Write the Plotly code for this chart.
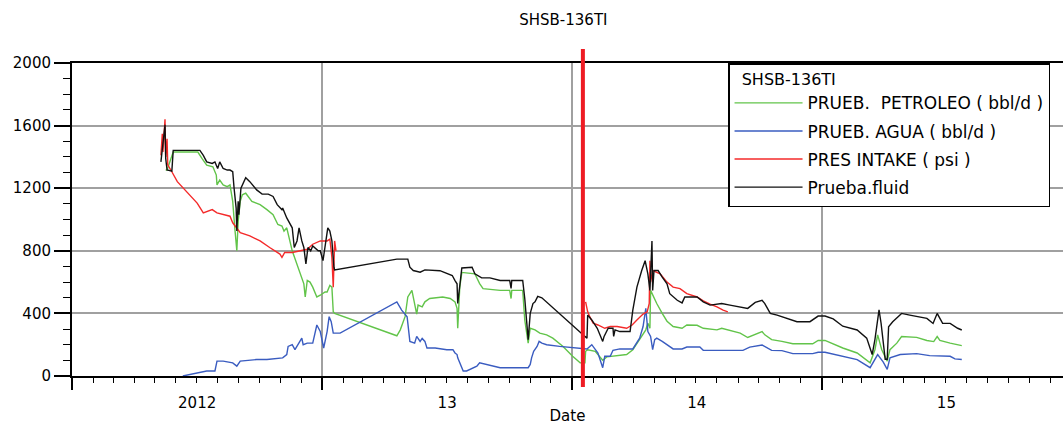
import plotly.graph_objects as go

# ---------------- data ----------------
fluid_dates = ["2012-05-10","2012-05-13","2012-05-16","2012-05-17","2012-05-19","2012-05-26","2012-05-28","2012-05-31",
"2012-07-06","2012-07-11","2012-07-16","2012-07-24","2012-07-28","2012-08-01","2012-08-04","2012-08-09","2012-08-15",
"2012-08-19","2012-08-23","2012-08-25","2012-08-28","2012-08-29","2012-08-31","2012-09-01","2012-09-04","2012-09-11",
"2012-09-17","2012-09-27","2012-10-05","2012-10-14","2012-10-21","2012-10-27","2012-11-03","2012-11-04","2012-11-10",
"2012-11-18","2012-11-21","2012-11-25","2012-11-28","2012-12-02","2012-12-05","2012-12-08","2012-12-11","2012-12-15",
"2012-12-18","2012-12-26","2012-12-29","2013-01-02","2013-01-05","2013-01-09","2013-01-12","2013-01-15","2013-01-18",
"2013-01-19","2013-04-20","2013-05-06","2013-05-09","2013-05-14","2013-05-24","2013-05-31","2013-06-22","2013-07-10",
"2013-07-14","2013-07-17","2013-07-18","2013-07-21","2013-07-24","2013-08-08","2013-08-12","2013-08-22","2013-09-03",
"2013-09-18","2013-10-02","2013-10-04","2013-10-05","2013-10-21","2013-10-24","2013-10-27","2013-10-29","2013-11-01",
"2013-11-05","2013-11-08","2013-11-12","2013-11-18","2014-01-16","2014-01-20","2014-01-23","2014-01-24","2014-01-30",
"2014-02-07","2014-02-15","2014-02-17","2014-02-23","2014-03-02","2014-03-03","2014-03-05","2014-03-12","2014-03-27",
"2014-03-31","2014-04-06","2014-04-13","2014-04-18","2014-04-22","2014-04-25","2014-04-28","2014-04-29","2014-05-01",
"2014-05-07","2014-05-13","2014-05-20","2014-05-24","2014-06-04","2014-06-11","2014-06-15","2014-07-03","2014-07-12",
"2014-07-22","2014-08-08","2014-08-20","2014-09-04","2014-09-15","2014-09-26","2014-10-06","2014-10-10","2014-10-18",
"2014-10-28","2014-11-11","2014-11-26","2014-12-15","2014-12-27","2015-01-06","2015-01-18","2015-02-01","2015-02-22",
"2015-03-08","2015-03-16","2015-03-20","2015-03-23","2015-03-26","2015-03-29","2015-04-01","2015-04-04","2015-04-07",
"2015-04-09","2015-04-15","2015-04-28","2015-05-10","2015-06-04","2015-06-13","2015-06-19","2015-06-23","2015-06-27",
"2015-07-08","2015-07-15","2015-07-19","2015-07-25"]
fluid_vals = [1368,1495,1605,1390,1316,1309,1442,1442,
1442,1410,1368,1358,1368,1326,1368,1326,1316,
1316,1305,1200,1073,926,1116,1031,1200,1267,
1242,1189,1162,1162,1147,1095,1063,1073,1010,
947,821,863,947,863,821,716,821,800,
831,800,800,737,821,947,926,863,695,
678,747,747,695,674,663,678,673,642,
610,589,463,589,690,695,653,627,627,
610,610,560,610,610,495,337,232,400,
463,474,509,500,263,253,242,389,358,
305,221,253,305,305,253,295,284,284,
421,568,674,737,653,547,863,547,674,
674,632,589,526,484,467,505,505,474,
453,463,453,442,432,470,484,463,400,
389,368,347,347,383,383,365,318,294,
242,137,233,347,423,337,210,107,107,
315,347,400,389,368,336,400,368,336,
336,315,305,294]

oil_dates = ["2012-05-17","2012-05-19","2012-05-28","2012-07-03","2012-07-09","2012-07-16","2012-07-25","2012-07-30",
"2012-07-31","2012-08-04","2012-08-09","2012-08-15","2012-08-19","2012-08-23","2012-08-26","2012-08-29","2012-08-31",
"2012-09-03","2012-09-06","2012-09-11","2012-09-20","2012-10-02","2012-10-12","2012-10-21","2012-10-28","2012-11-03",
"2012-11-06","2012-11-10","2012-11-18","2012-11-22","2012-11-26","2012-11-29","2012-12-05","2012-12-07","2012-12-10",
"2012-12-14","2012-12-18","2012-12-24","2012-12-29","2013-01-05","2013-01-08","2013-01-12","2013-01-15","2013-01-17",
"2013-01-19","2013-04-20","2013-04-25","2013-05-02","2013-05-06","2013-05-12","2013-05-16","2013-05-19","2013-05-21",
"2013-05-27","2013-05-31","2013-06-07","2013-06-26","2013-07-07","2013-07-14","2013-07-17","2013-07-18","2013-07-21",
"2013-07-24","2013-08-12","2013-08-19","2013-08-24","2013-09-18","2013-10-02","2013-10-04","2013-10-05","2013-10-21",
"2013-10-24","2013-10-29","2013-11-01","2013-11-08","2013-11-15","2013-11-25","2013-12-04","2013-12-19","2014-01-02",
"2014-01-13","2014-01-20","2014-01-21","2014-01-24","2014-02-04","2014-02-15","2014-02-21","2014-03-02","2014-03-22",
"2014-03-31","2014-04-10","2014-04-19","2014-04-22","2014-04-25","2014-04-26","2014-04-29","2014-05-05","2014-05-13",
"2014-05-20","2014-05-29","2014-06-11","2014-06-18","2014-07-03","2014-07-12","2014-08-01","2014-08-08","2014-08-20",
"2014-09-04","2014-09-15","2014-09-26","2014-10-06","2014-10-10","2014-10-20","2014-11-04","2014-11-20","2014-12-19",
"2014-12-27","2015-01-06","2015-01-18","2015-02-01","2015-02-22","2015-03-13","2015-03-20","2015-03-24","2015-03-30",
"2015-04-07","2015-04-11","2015-04-21","2015-04-28","2015-05-20","2015-06-04","2015-06-14","2015-06-19","2015-06-23",
"2015-07-08","2015-07-25"]
oil_vals = [1316,1316,1431,1431,1390,1347,1337,1284,
1221,1252,1221,1210,1221,1116,947,800,990,
1116,1158,1168,1116,1095,1063,1031,968,958,
926,947,800,748,695,653,589,505,611,
600,568,505,516,537,537,579,568,410,
400,257,295,379,505,547,463,396,453,
442,474,495,505,495,474,432,305,568,
662,653,590,558,547,547,495,547,547,
358,210,305,295,274,263,242,189,126,
84,84,158,168,158,101,122,126,137,
168,232,295,337,305,547,516,463,400,
350,316,305,326,324,305,295,305,290,
274,246,268,284,263,232,221,206,206,
227,227,205,179,147,84,168,263,168,
95,168,210,252,247,227,220,252,227,
210,194]

water_dates = ["2012-06-11","2012-06-22","2012-07-02","2012-07-16","2012-07-28","2012-07-31","2012-08-09","2012-08-23",
"2012-08-29","2012-09-03","2012-09-27","2012-10-12","2012-11-04","2012-11-10","2012-11-12","2012-11-18","2012-11-22",
"2012-11-26","2012-12-02","2012-12-04","2012-12-10","2012-12-18","2012-12-21","2012-12-24","2012-12-29","2012-12-31",
"2013-01-03","2013-01-08","2013-01-11","2013-01-14","2013-01-17","2013-01-27","2013-04-20","2013-04-27","2013-05-05",
"2013-05-09","2013-05-16","2013-05-19","2013-05-24","2013-05-27","2013-05-31","2013-06-03","2013-06-15","2013-07-02",
"2013-07-11","2013-07-14","2013-07-17","2013-07-18","2013-07-21","2013-07-26","2013-07-31","2013-08-15","2013-08-19",
"2013-09-07","2013-09-18","2013-10-29","2013-11-01","2013-11-03","2013-11-06","2013-11-11","2013-11-14","2013-11-18",
"2013-11-25","2013-12-14","2014-01-13","2014-01-23","2014-01-30","2014-02-01","2014-02-08","2014-02-15","2014-02-18",
"2014-02-26","2014-03-02","2014-03-12","2014-03-31","2014-04-10","2014-04-15","2014-04-19","2014-04-21","2014-04-22",
"2014-04-26","2014-04-29","2014-05-02","2014-05-05","2014-05-13","2014-05-20","2014-05-29","2014-06-11","2014-06-18",
"2014-07-07","2014-07-12","2014-09-08","2014-09-18","2014-10-06","2014-10-13","2014-10-20","2014-11-04","2014-11-20",
"2014-12-19","2014-12-27","2015-01-06","2015-01-18","2015-02-01","2015-02-22","2015-03-13","2015-03-24","2015-04-01",
"2015-04-07","2015-04-11","2015-04-26","2015-05-20","2015-06-08","2015-07-08","2015-07-15","2015-07-25"]
water_vals = [0,10,21,32,32,95,95,84,
63,95,105,105,116,137,189,200,168,
200,242,200,210,210,274,326,284,232,
179,284,379,347,274,274,474,421,379,
221,210,253,221,240,221,179,179,168,
168,147,137,116,84,32,32,63,84,
63,53,53,74,116,158,189,221,210,
200,189,179,173,200,189,147,53,126,
126,164,173,173,242,316,432,326,284,
253,168,232,242,221,200,173,173,185,
185,164,164,185,198,179,164,162,143,
143,152,152,140,126,105,53,137,90,
42,116,137,143,130,126,109,105]

intake_dates = ["2012-05-10","2012-05-12","2012-05-13","2012-05-16","2012-05-17","2012-05-19","2012-05-20","2012-05-23",
"2012-05-26","2012-06-03","2012-06-17","2012-07-02","2012-07-11","2012-07-16","2012-07-24","2012-07-31","2012-08-09",
"2012-08-19","2012-08-23","2012-08-29","2012-09-03","2012-09-17","2012-10-02","2012-10-16","2012-10-31","2012-11-03",
"2012-11-07","2012-11-18","2012-11-29","2012-12-10","2012-12-18","2012-12-29","2013-01-08","2013-01-12","2013-01-14",
"2013-01-15","2013-01-17","2013-01-18","2013-01-19","2013-01-21","2013-07-01","2014-01-21","2014-01-24","2014-01-27",
"2014-02-01","2014-02-08","2014-02-18","2014-02-26","2014-03-08","2014-03-22","2014-03-30","2014-04-06","2014-04-15",
"2014-04-21","2014-04-24","2014-04-25","2014-04-26","2014-04-29","2014-05-10","2014-05-20","2014-05-29","2014-06-08",
"2014-06-18","2014-07-03","2014-07-12","2014-07-22","2014-08-01","2014-08-10","2014-08-17"]
intake_vals = [1410,1547,1431,1640,1400,1516,1350,1330,
1305,1242,1179,1105,1042,1052,1063,1042,1031,
1021,979,947,916,895,863,821,779,758,
789,789,800,810,842,863,863,874,800,
758,568,700,863,800,None,474,410,379,
337,326,305,316,316,305,326,358,396,
410,463,737,600,674,653,600,568,558,
526,505,480,459,442,421,410]

marker_date = "2014-01-17"
x_range = ["2012-01-01", "2015-12-20"]
y_range = [0, 2000]

title_text = "SHSB-136TI"
legend_title = "\u00a0\u00a0SHSB-136TI"
names = ["PRUEB.\u00a0 PETROLEO ( bbl/d )", "PRUEB. AGUA ( bbl/d )", "PRES INTAKE ( psi )", "Prueba.fluid"]
colors = ["#62c44a", "#3a5cc0", "#f42a2a", "#111111"]

# ---------------- figure ----------------
fig = go.Figure()
series = [(oil_dates, oil_vals), (water_dates, water_vals), (intake_dates, intake_vals), (fluid_dates, fluid_vals)]
for i, ((d, v), n, c) in enumerate(zip(series, names, colors)):
    fig.add_trace(go.Scatter(x=d, y=v, mode="lines", name=n, legendgroup=str(i),
                             line=dict(color=c, width=1.4), connectgaps=False))

fig.add_shape(type="line", xref="x", yref="paper", x0=marker_date, x1=marker_date,
              y0=-0.035, y1=1.045, line=dict(color="#ee1c24", width=4), layer="above")

font_family = "DejaVu Sans"
fig.update_layout(
    width=1063, height=425,
    margin=dict(l=72, r=0, t=63, b=45),
    paper_bgcolor="white", plot_bgcolor="white",
    font=dict(family=font_family, size=15, color="black"),
    title=dict(text=title_text, x=0.53, xanchor="center", y=0.953, yanchor="middle",
               xref="container", yref="container", font=dict(size=15, color="black")),
    showlegend=True,
    legend=dict(x=0.662, xanchor="left", y=1, yanchor="top",
                bgcolor="white", bordercolor="black", borderwidth=1.5,
                font=dict(size=17, color="black"),
                title=dict(text=legend_title, font=dict(size=16)),
                tracegroupgap=3, itemwidth=68),
)
fig.update_xaxes(
    type="date", range=x_range,
    tickmode="linear", tick0="2012-01-01", dtick="M12",
    ticklabelmode="period", tickformat="%Y",
    labelalias={"2013": "13", "2014": "14", "2015": "15"},
    ticks="outside", ticklen=12, tickwidth=1.5, tickcolor="black",
    minor=dict(dtick="M1", ticklen=5, tickwidth=1, tickcolor="black", showgrid=False),
    showgrid=True, gridcolor="#a0a0a0", gridwidth=1.5,
    showline=True, linecolor="black", linewidth=2, mirror=True,
    zeroline=False,
    title=dict(text="Date", standoff=2, font=dict(size=15)),
    tickfont=dict(size=15),
)
fig.update_yaxes(
    range=y_range, tickmode="linear", tick0=0, dtick=400,
    ticks="outside", ticklen=16, tickwidth=1.5, tickcolor="black",
    minor=dict(dtick=100, ticklen=7, tickwidth=1, tickcolor="black", showgrid=False),
    showgrid=True, gridcolor="#a0a0a0", gridwidth=1.5,
    showline=True, linecolor="black", linewidth=2,
    zeroline=False, tickfont=dict(size=15),
)

fig.write_html("out.html")
